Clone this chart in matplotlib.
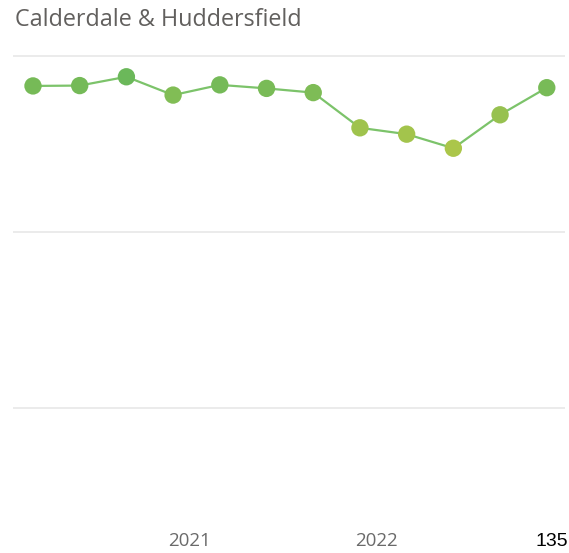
import matplotlib
matplotlib.use("Agg")
import matplotlib.pyplot as plt
from matplotlib.colors import LinearSegmentedColormap, Normalize

# Quarterly series, twelve periods
periods = list(range(12))
values = [91.5, 91.6, 94.1, 88.9, 91.8, 90.8, 89.6, 79.6, 77.8, 73.8, 83.3, 91.0]
year_ticks = [3.36, 7.36]
year_labels = ["2021", "2022"]
grid_levels = [0, 50, 100]
title = "Calderdale & Huddersfield"
page_number = "135"

W, H = 569, 553
fig = plt.figure(figsize=(W / 100, H / 100), dpi=100)
fig.patch.set_facecolor("white")

ax = fig.add_axes([13 / W, (H - 520) / H, (565 - 13) / W, (520 - 54) / H])
ax.set_facecolor("white")
ax.set_xlim(-0.428, 11.39)
ax.set_ylim(-31.8, 100.57)

for s in ax.spines.values():
    s.set_visible(False)

ax.set_yticks(grid_levels)
ax.tick_params(axis="y", left=False, labelleft=False)
ax.grid(axis="y", color="#e9e9e9", linewidth=1.3)
ax.set_axisbelow(True)

ax.set_xticks(year_ticks)
ax.set_xticklabels(year_labels, fontfamily="Open Sans", fontsize=13.5, color="#6a6a6a")
ax.tick_params(axis="x", bottom=False, pad=5)

# Marker colour graded by value: lower values shift towards yellow-green
cmap = LinearSegmentedColormap.from_list("grade", ["#abc64a", "#96c150", "#6bb85a"])
norm = Normalize(vmin=min(values), vmax=max(values))

ax.plot(periods, values, color="#7cc36a", linewidth=1.6, zorder=2)
ax.scatter(periods, values, s=12.5 ** 2, c=[cmap(norm(v)) for v in values],
           edgecolors="none", zorder=3)

fig.text(15 / W, 1 - 20 / H, title, fontfamily="Open Sans", fontsize=16.8,
         color="#62605e", ha="left", va="center")
fig.text(568 / W, 1 - 542 / H, page_number, fontfamily="Liberation Sans",
         fontsize=14, color="black", ha="right", va="center")

fig.savefig("out.png", dpi=100, facecolor="white")
